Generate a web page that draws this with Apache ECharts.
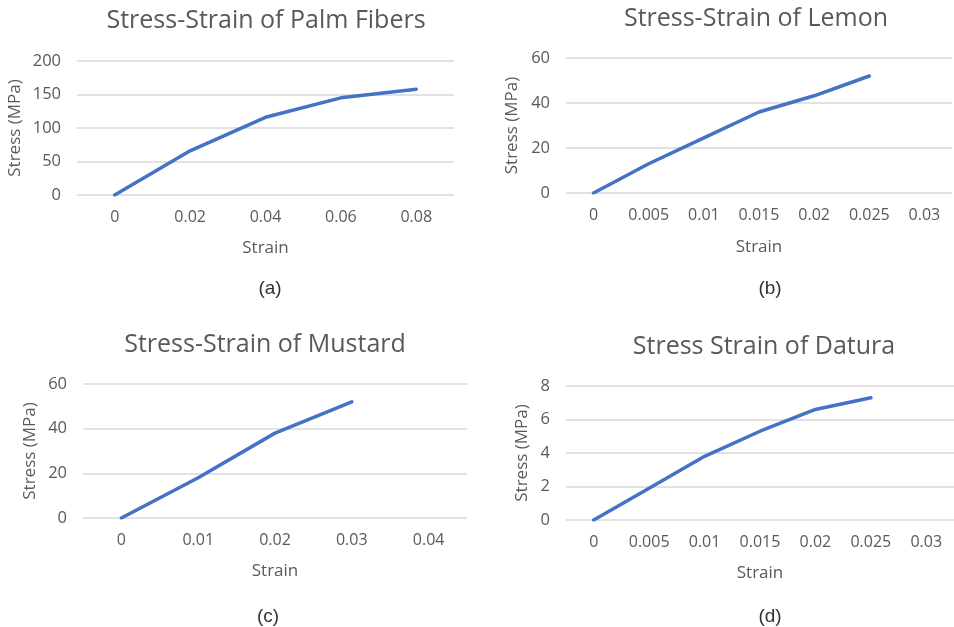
<!DOCTYPE html>
<html><head><meta charset="utf-8">
<script src="https://cdn.jsdelivr.net/npm/echarts@6/dist/echarts.min.js"></script>
<style>html,body{margin:0;padding:0;background:#fff}#c{width:954px;height:627px}</style>
</head><body><div id="c"></div>
<script>
// Palm fibers (a)
const palmStrain = ['0', '0.02', '0.04', '0.06', '0.08'];
const palmStress = [0, 66, 116, 145, 158];
// Lemon (b)
const lemonStrain = ['0', '0.005', '0.01', '0.015', '0.02', '0.025', '0.03'];
const lemonStress = [0, 13, 24.5, 36, 43.2, 52];
// Mustard (c)
const mustardStrain = ['0', '0.01', '0.02', '0.03', '0.04'];
const mustardStress = [0, 18, 38, 52];
// Datura (d)
const daturaStrain = ['0', '0.005', '0.01', '0.015', '0.02', '0.025', '0.03'];
const daturaStress = [0, 1.9, 3.8, 5.3, 6.6, 7.3];

const titles = ['Stress-Strain of Palm Fibers', 'Stress-Strain of Lemon', 'Stress-Strain of Mustard', 'Stress Strain of Datura'];
const subLabels = ['(a)', '(b)', '(c)', '(d)'];
const yMax = [200, 60, 60, 8];
const yInterval = [50, 20, 20, 2];

const cats = [palmStrain, lemonStrain, mustardStrain, daturaStrain];
const vals = [palmStress, lemonStress, mustardStress, daturaStress];

const grids = [
  {left: 77, top: 61, width: 377, height: 134},
  {left: 566, top: 58, width: 386, height: 135},
  {left: 83, top: 384, width: 384, height: 134},
  {left: 566, top: 386, width: 388, height: 134}
];
const titlePos = [[261, 3], [751, 1], [260, 327], [759, 329]];
const subPos = [[265, 274], [765, 274], [263, 602], [765, 602]];
const yNamePos = [15, 512, 30, 522];
const xNameY = [248, 247, 571, 573];

const FONT = 'Open Sans';
const GREY = '#595959';

const option = {
  animation: false,
  backgroundColor: '#fff',
  title: [],
  grid: [],
  xAxis: [],
  yAxis: [],
  series: [],
  graphic: []
};

for (let i = 0; i < 4; i++) {
  const g = grids[i];
  option.grid.push(Object.assign({containLabel: false}, g));
  option.title.push({
    text: titles[i], left: titlePos[i][0], top: titlePos[i][1], textAlign: 'center',
    textStyle: {fontFamily: FONT, fontSize: 25, fontWeight: 'normal', color: GREY}
  });
  option.title.push({
    text: subLabels[i], left: subPos[i][0], top: subPos[i][1], textAlign: 'center',
    textStyle: {fontFamily: 'Liberation Sans', fontSize: 19, fontWeight: 'normal', color: '#333'}
  });
  option.xAxis.push({
    type: 'category', gridIndex: i, data: cats[i], boundaryGap: true,
    axisLine: {show: false}, axisTick: {show: false},
    axisLabel: {interval: 0, hideOverlap: false, fontFamily: FONT, fontSize: 16, color: GREY, margin: 14},
    splitLine: {show: false}
  });
  option.yAxis.push({
    type: 'value', gridIndex: i, min: 0, max: yMax[i], interval: yInterval[i],
    axisLine: {show: false}, axisTick: {show: false},
    axisLabel: {fontFamily: FONT, fontSize: 16.5, color: GREY, margin: 16},
    splitLine: {show: true, lineStyle: {color: '#d9d9d9', width: 1.5}}
  });
  option.series.push({
    type: 'line', xAxisIndex: i, yAxisIndex: i, data: vals[i],
    symbol: 'none', lineStyle: {color: '#4472C4', width: 3.5, cap: 'round', join: 'round'}
  });
  option.graphic.push({
    type: 'text', x: yNamePos[i], y: g.top + g.height / 2, rotation: Math.PI / 2,
    style: {text: 'Stress (MPa)', fontFamily: FONT, fontSize: 17, fill: GREY, align: 'center', verticalAlign: 'middle'}
  });
  option.graphic.push({
    type: 'text', x: g.left + g.width / 2, y: xNameY[i],
    style: {text: 'Strain', fontFamily: FONT, fontSize: 17, fill: GREY, align: 'center', verticalAlign: 'middle'}
  });
}

const chart = echarts.init(document.getElementById('c'));
chart.setOption(option);
</script>
</body></html>
